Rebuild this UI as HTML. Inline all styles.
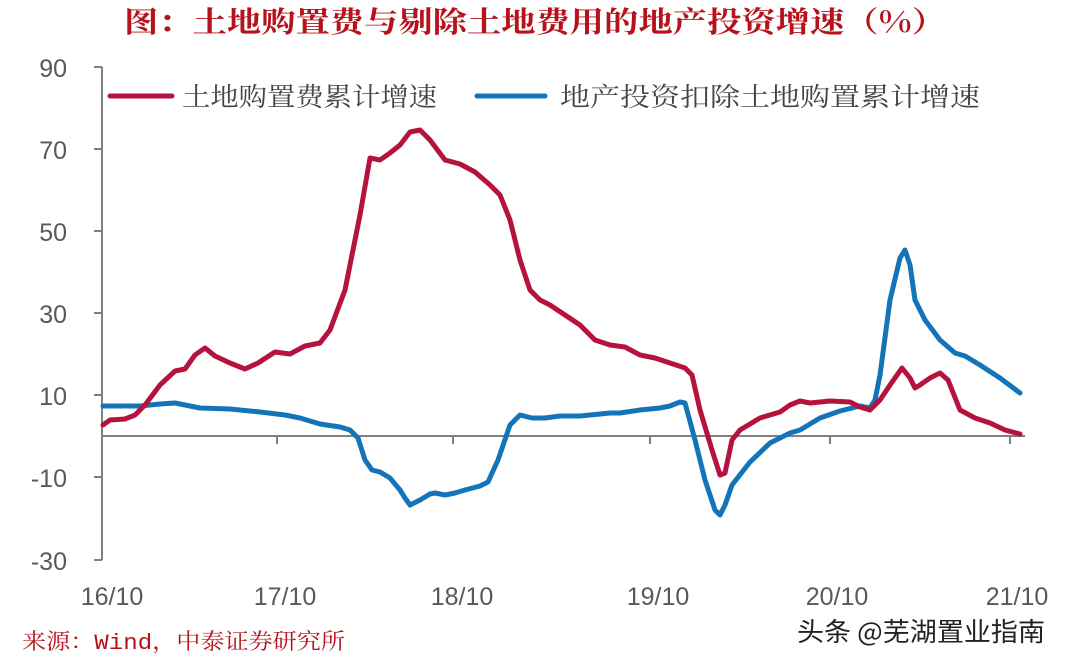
<!DOCTYPE html>
<html><head><meta charset="utf-8"><style>
html,body{margin:0;padding:0;background:#fff;}
svg{display:block}
</style></head><body>
<svg width="1067" height="662" xmlns="http://www.w3.org/2000/svg">
<text x="535" y="32" text-anchor="middle" font-family="'Noto Serif CJK SC','Liberation Serif',serif" font-weight="bold" font-size="29" fill="#b5121b" textLength="822" lengthAdjust="spacingAndGlyphs">图：土地购置费与剔除土地费用的地产投资增速（%）</text>
<g stroke="#808080" stroke-width="2" fill="none">
<line x1="102" y1="67" x2="102" y2="560"/>
<line x1="94" y1="67" x2="102" y2="67"/>
<line x1="94" y1="149" x2="102" y2="149"/>
<line x1="94" y1="231" x2="102" y2="231"/>
<line x1="94" y1="313" x2="102" y2="313"/>
<line x1="94" y1="395" x2="102" y2="395"/>
<line x1="94" y1="477" x2="102" y2="477"/>
<line x1="94" y1="560" x2="102" y2="560"/>
<line x1="102" y1="436" x2="1025" y2="436"/>
<line x1="277" y1="436" x2="277" y2="444"/>
<line x1="453" y1="436" x2="453" y2="444"/>
<line x1="650" y1="436" x2="650" y2="444"/>
<line x1="830" y1="436" x2="830" y2="444"/>
<line x1="1010" y1="436" x2="1010" y2="444"/>
</g>
<g font-family="'Liberation Sans',sans-serif" font-size="25" fill="#595959" text-anchor="end">
<text x="67" y="77">90</text><text x="67" y="159">70</text><text x="67" y="241">50</text>
<text x="67" y="323">30</text><text x="67" y="405">10</text><text x="67" y="487">-10</text><text x="67" y="570">-30</text>
</g>
<g font-family="'Liberation Sans',sans-serif" font-size="25" fill="#595959" text-anchor="middle">
<text x="112" y="605">16/10</text><text x="285" y="605">17/10</text><text x="462" y="605">18/10</text>
<text x="658" y="605">19/10</text><text x="837" y="605">20/10</text><text x="1017" y="605">21/10</text>
</g>
<line x1="110" y1="96" x2="172" y2="96" stroke="#b5123e" stroke-width="5" stroke-linecap="round"/>
<text x="182" y="106" font-family="'Noto Serif CJK SC',serif" font-size="26" fill="#444" textLength="255" lengthAdjust="spacingAndGlyphs">土地购置费累计增速</text>
<line x1="477" y1="96" x2="545" y2="96" stroke="#1474b8" stroke-width="5" stroke-linecap="round"/>
<text x="560" y="106" font-family="'Noto Serif CJK SC',serif" font-size="26" fill="#444" textLength="420" lengthAdjust="spacingAndGlyphs">地产投资扣除土地购置累计增速</text>
<polyline fill="none" stroke="#1474b8" stroke-width="5" stroke-linejoin="round" stroke-linecap="round" points="103,406 120,406 140,406 160,404 175,403 185,405 200,408 230,409 260,412 285,415 300,418 320,424 340,427 350,430 358,438 365,460 372,470 380,472 390,478 400,490 405,498 410,505 420,500 430,494 435,493 445,495 455,493 465,490 480,486 488,482 498,460 510,425 520,415 532,418 545,418 560,416 580,416 600,414 610,413 620,413 640,410 660,408 670,406 680,402 685,403 695,440 705,480 715,510 720,515 725,505 732,485 750,462 770,443 790,433 800,430 820,418 840,411 860,406 870,408 875,400 880,375 890,300 900,258 905,250 910,265 915,300 925,320 940,340 955,353 965,356 980,365 1000,378 1020,393"/>
<polyline fill="none" stroke="#b5123e" stroke-width="5" stroke-linejoin="round" stroke-linecap="round" points="103,425 110,420 125,419 135,415 145,405 160,385 175,371 185,369 195,355 205,348 215,356 230,363 245,369 258,363 275,352 290,354 305,346 320,343 330,330 345,290 360,215 370,158 380,160 390,153 400,145 410,132 420,130 430,140 445,160 460,164 475,172 490,185 500,195 510,220 520,260 530,290 540,300 550,305 565,315 580,325 595,340 610,345 625,347 640,355 655,358 670,363 685,368 692,375 700,410 712,450 720,475 725,473 732,440 740,430 760,418 780,412 790,405 800,401 810,403 830,401 850,402 860,407 870,410 880,400 890,385 902,368 910,378 915,388 920,385 930,378 940,373 948,380 960,410 975,418 990,423 1005,430 1020,434"/>
<text x="22" y="649" font-family="'Noto Serif CJK SC',serif" font-size="22" fill="#b5121b" textLength="323" lengthAdjust="spacingAndGlyphs">来源：<tspan font-family="'Liberation Mono',monospace">Wind</tspan>，中泰证券研究所</text>
<text x="797" y="641" font-family="'Noto Sans CJK SC',sans-serif" font-size="26" fill="#222" textLength="248" lengthAdjust="spacingAndGlyphs">头条 @芜湖置业指南</text>
</svg>
</body></html>
